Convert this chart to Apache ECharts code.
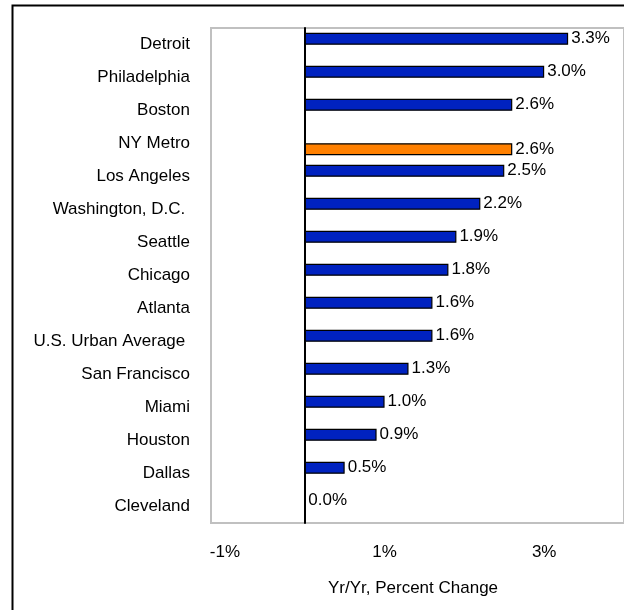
<!DOCTYPE html>
<html>
<head>
<meta charset="utf-8">
<script src="https://cdn.jsdelivr.net/npm/echarts@6/dist/echarts.min.js"></script>
<style>
html,body{margin:0;padding:0;background:#fff;}
#c{width:624px;height:610px;}
</style>
</head>
<body>
<div id="c"></div>
<script>
const categories = ['Detroit','Philadelphia','Boston','NY Metro','Los Angeles','Washington, D.C. ','Seattle','Chicago','Atlanta','U.S. Urban Average ','San Francisco','Miami','Houston','Dallas','Cleveland'];
const metroValues = [3.3, 3.0, 2.6, null, 2.5, 2.2, 1.9, 1.8, 1.6, 1.6, 1.3, 1.0, 0.9, 0.5, 0.0];
const nyValues = [null, null, null, 2.6, null, null, null, null, null, null, null, null, null, null, null];
const tickValues = [-1, 1, 3];
const axisTitle = 'Yr/Yr, Percent Change';

const FONT = '"Liberation Sans", Arial, sans-serif';
const chart = echarts.init(document.getElementById('c'), null, {renderer: 'canvas'});
const labelCfg = {
  show: true, position: 'right', distance: 3,
  color: '#000', fontFamily: FONT, fontSize: 17,
  formatter: p => p.value == null ? '' : p.value.toFixed(1) + '%'
};
chart.setOption({
  animation: false,
  backgroundColor: '#fff',
  graphic: [{
    type: 'rect', left: 10, top: 3,
    shape: {width: 700, height: 700},
    style: {fill: 'none', stroke: '#000', lineWidth: 2},
    silent: true
  }],
  grid: {
    left: 211, top: 28, width: 414, height: 495,
    show: true, borderColor: '#c0c0c0', borderWidth: 2, backgroundColor: 'transparent'
  },
  xAxis: {
    type: 'value', min: -1.175, max: 4,
    axisLine: {show: false}, axisTick: {show: false}, splitLine: {show: false},
    axisLabel: {
      customValues: tickValues, margin: 21,
      color: '#000', fontFamily: FONT, fontSize: 17,
      formatter: v => v + '%'
    },
    name: axisTitle, nameLocation: 'middle', nameGap: 57,
    nameTextStyle: {color: '#000', fontFamily: FONT, fontSize: 17, padding: [0, 9, 0, 0]}
  },
  yAxis: {
    type: 'category', data: categories, inverse: true,
    axisLine: {show: true, onZero: true, lineStyle: {color: '#000', width: 2}},
    axisTick: {show: false},
    axisLabel: {color: '#000', fontFamily: FONT, fontSize: 17, margin: 21}
  },
  series: [
    {
      type: 'bar', data: metroValues, barWidth: 12, barGap: '-4%',
      itemStyle: {color: '#0022C0', borderColor: '#000', borderWidth: 1.2},
      label: labelCfg
    },
    {
      type: 'bar', data: nyValues, barWidth: 12, barGap: '-4%',
      itemStyle: {color: '#FF8000', borderColor: '#000', borderWidth: 1.2},
      label: labelCfg
    }
  ]
});
</script>
</body>
</html>
